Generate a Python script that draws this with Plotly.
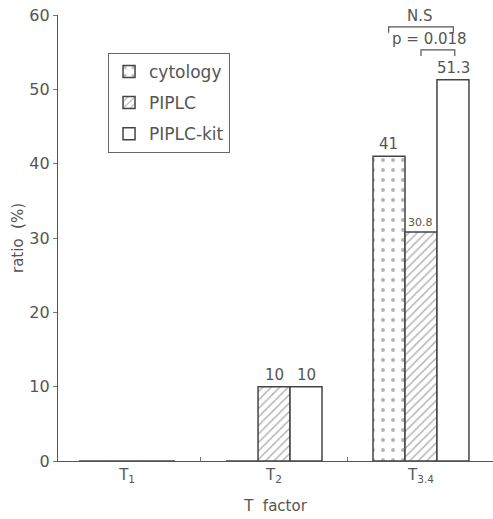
import plotly.graph_objects as go

categories = ["T<sub>1</sub>", "T<sub>2</sub>", "T<sub>3.4</sub>"]
cytology = [0, 0, 41]
piplc = [0, 10, 30.8]
piplc_kit = [0, 10, 51.3]
y_ticks = [0, 10, 20, 30, 40, 50, 60]

TXT = "#555555"
EDGE = "#444444"
FONT = "DejaVu Sans"

fig = go.Figure()
fig.add_trace(go.Bar(
    name="cytology", x=categories, y=cytology, legendgroup="a",
    marker=dict(color="white", line=dict(color=EDGE, width=1.5),
                pattern=dict(shape=".", fgcolor="#666666", bgcolor="white", size=10, solidity=0.12)),
))
fig.add_trace(go.Bar(
    name="PIPLC", x=categories, y=piplc, legendgroup="b",
    marker=dict(color="white", line=dict(color=EDGE, width=1.5),
                pattern=dict(shape="/", fgcolor="#555555", bgcolor="white", size=6, solidity=0.22)),
))
fig.add_trace(go.Bar(
    name="PIPLC-kit", x=categories, y=piplc_kit, legendgroup="c",
    marker=dict(color="white", line=dict(color=EDGE, width=1.5)),
))

# value labels
labels = [
    (2, -0.218, cytology[2], "41", 15),
    (2, 0.0, piplc[2], "30.8", 11),
    (2, 0.218, piplc_kit[2], "51.3", 15),
    (1, 0.0, piplc[1], "10", 15),
    (1, 0.218, piplc_kit[1], "10", 15),
]
for ci, off, v, t, fs in labels:
    fig.add_annotation(x=ci + off, y=v, xref="x", yref="y", text=t, showarrow=False,
                       yanchor="bottom", yshift=1, font=dict(size=fs, color=TXT, family=FONT))

# significance brackets
def bracket(x0, x1, y, drop):
    fig.add_shape(type="path", xref="x", yref="y",
                  path=f"M {x0} {y-drop} L {x0} {y} L {x1} {y} L {x1} {y-drop}",
                  line=dict(color=TXT, width=1.2))

bracket(2 - 0.22, 2 + 0.22, 58.4, 0.8)
bracket(2 - 0.0, 2 + 0.23, 55.3, 0.8)
fig.add_annotation(x=2 - 0.01, y=58.4, xref="x", yref="y", text="N.S", showarrow=False,
                   yanchor="bottom", yshift=0, font=dict(size=15, color=TXT, family=FONT))
fig.add_annotation(x=2 + 0.06, y=55.3, xref="x", yref="y", text="p = 0.018", showarrow=False,
                   yanchor="bottom", yshift=0, font=dict(size=15, color=TXT, family=FONT))

fig.update_layout(
    width=493, height=519,
    margin=dict(l=58, r=0, t=15, b=58),
    paper_bgcolor="white", plot_bgcolor="white",
    barmode="group", bargap=0.347, bargroupgap=0,
    font=dict(family=FONT, color=TXT, size=14),
    showlegend=True,
    legend=dict(x=0.115, y=0.915, xanchor="left", yanchor="top",
                bordercolor="#666666", borderwidth=1, bgcolor="white",
                font=dict(size=17, color=TXT, family=FONT),
                tracegroupgap=6, traceorder="grouped"),
    xaxis=dict(range=[-0.47, 2.49], showline=True, linecolor="#555555", linewidth=1.2,
               ticks="inside", tickson="boundaries", ticklen=4, tickcolor="#777777",
               showgrid=False, zeroline=False, automargin=False,
               tickfont=dict(size=15, color=TXT),
               title=dict(text="T  factor", font=dict(size=15, color=TXT), standoff=16)),
    yaxis=dict(range=[0, 60], tickvals=y_ticks, showline=True, linecolor="#555555", linewidth=1.2,
               ticks="outside", ticklen=4, tickcolor="#777777", showgrid=False, zeroline=False,
               automargin=False,
               tickfont=dict(size=16, color=TXT),
               title=dict(text="ratio  (%)", font=dict(size=15, color=TXT), standoff=2)),
)

# remove the browser's default 8px body margin so the figure fills the window
fig.write_html("out.html", config={"displayModeBar": False},
               post_script="document.body.style.margin='0';")
